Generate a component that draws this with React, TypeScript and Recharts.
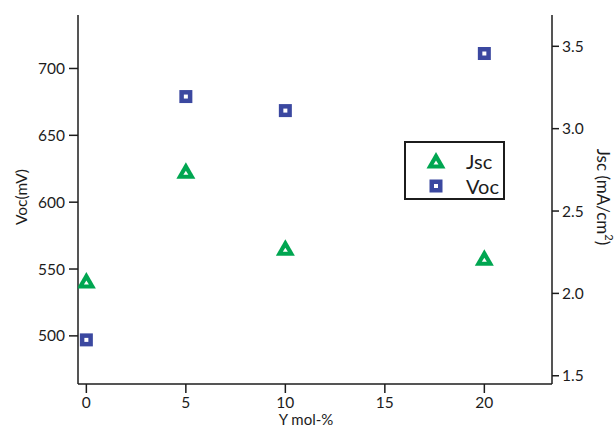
import React from 'react';
import { ScatterChart, Scatter, XAxis, YAxis, Legend } from 'recharts';

// Y content (mol-%) of the samples
const yContent = [0, 5, 10, 20];
// open-circuit voltage, mV (left axis)
const vocValues = [497, 679, 668.5, 711.2];
// short-circuit current density, mA/cm2 (right axis)
const jscValues = [2.076, 2.741, 2.274, 2.213];

const xTicks = [0, 5, 10, 15, 20];
const vocTicks = [500, 550, 600, 650, 700];
const jscTicks = [1.5, 2.0, 2.5, 3.0, 3.5];

const BLUE = '#3B48A0';
const GREEN = '#00A651';
const INK = '#1c1c1c';
const FONT = 'Lato, "Liberation Sans", sans-serif';

const vocData = yContent.map((x, i) => ({ x, y: vocValues[i] }));
const jscData = yContent.map((x, i) => ({ x, y: jscValues[i] }));

const SquareMark = ({ cx, cy }: any) => (
  <g>
    <rect x={cx - 6.5} y={cy - 6.5} width={13} height={13} fill={BLUE} />
    <rect x={cx - 2} y={cy - 2} width={4} height={4} fill="#fff" />
  </g>
);

const TriangleMark = ({ cx, cy }: any) => (
  <g>
    <polygon points={`${cx},${cy - 9} ${cx - 9.5},${cy + 7.5} ${cx + 9.5},${cy + 7.5}`} fill={GREEN} />
    <polygon points={`${cx},${cy - 0.5} ${cx - 2.5},${cy + 3.5} ${cx + 2.5},${cy + 3.5}`} fill="#fff" />
  </g>
);

const LegendBox = ({ payload }: any) => (
  <div
    style={{
      border: `2px solid ${INK}`,
      background: '#fff',
      width: 101,
      height: 59,
      boxSizing: 'border-box',
      fontFamily: FONT,
      fontSize: 20,
      color: INK,
      paddingTop: 5,
    }}
  >
    {(payload || []).map((entry: any) => (
      <div key={entry.value} style={{ display: 'flex', alignItems: 'center', height: 25 }}>
        <svg width={60} height={22}>
          {entry.value === 'Jsc' ? <TriangleMark cx={30} cy={11} /> : <SquareMark cx={30} cy={11} />}
        </svg>
        <span>{entry.value}</span>
      </div>
    ))}
  </div>
);

const tickStyle = { fontSize: 15.5, fill: INK, fontFamily: FONT };
const axisLine = { stroke: INK, strokeWidth: 1.5 };

export default function App() {
  return (
    <div style={{ position: 'absolute', left: 0, top: 0, background: '#fff' }}>
      <ScatterChart width={616} height={428} margin={{ top: 15, right: 0, left: 0, bottom: 0 }}>
        <XAxis
          type="number"
          dataKey="x"
          domain={[-0.42, 23.4]}
          ticks={xTicks}
          allowDataOverflow
          height={44}
          tickSize={9}
          tickMargin={4}
          tick={tickStyle}
          axisLine={axisLine}
          tickLine={axisLine}
          label={() => (
            <text x={306} y={425} textAnchor="middle" fontSize={15} fontFamily={FONT} fill={INK}>
              Y mol-%
            </text>
          )}
        />
        <YAxis
          yAxisId="voc"
          type="number"
          dataKey="y"
          domain={[464, 740]}
          ticks={vocTicks}
          allowDataOverflow
          width={78}
          tickSize={9}
          tickMargin={4}
          tick={tickStyle}
          axisLine={axisLine}
          tickLine={axisLine}
          label={() => (
            <text
              x={27}
              y={197}
              transform="rotate(-90, 27, 197)"
              textAnchor="middle"
              fontSize={15.5}
              fontFamily={FONT}
              fill={INK}
            >
              Voc(mV)
            </text>
          )}
        />
        <YAxis
          yAxisId="jsc"
          orientation="right"
          type="number"
          dataKey="y"
          domain={[1.45, 3.69]}
          ticks={jscTicks}
          allowDataOverflow
          width={64}
          tickSize={7}
          tickMargin={3}
          tick={tickStyle}
          tickFormatter={(v: number) => v.toFixed(1)}
          axisLine={axisLine}
          tickLine={axisLine}
          label={() => (
            <text
              x={597}
              y={197}
              transform="rotate(90, 597, 197)"
              textAnchor="middle"
              fontSize={17}
              fontFamily={FONT}
              fill={INK}
            >
              Jsc (mA/cm<tspan dy={-8} fontSize={11}>2</tspan>
              <tspan dy={8}>)</tspan>
            </text>
          )}
        />
        <Legend
          layout="vertical"
          align="center"
          verticalAlign="middle"
          wrapperStyle={{ left: 404, top: 141, width: 104 }}
          content={<LegendBox />}
        />
        <Scatter
          name="Jsc"
          data={jscData}
          yAxisId="jsc"
          fill={GREEN}
          shape={<TriangleMark />}
          isAnimationActive={false}
        />
        <Scatter
          name="Voc"
          data={vocData}
          yAxisId="voc"
          fill={BLUE}
          shape={<SquareMark />}
          isAnimationActive={false}
        />
      </ScatterChart>
    </div>
  );
}
